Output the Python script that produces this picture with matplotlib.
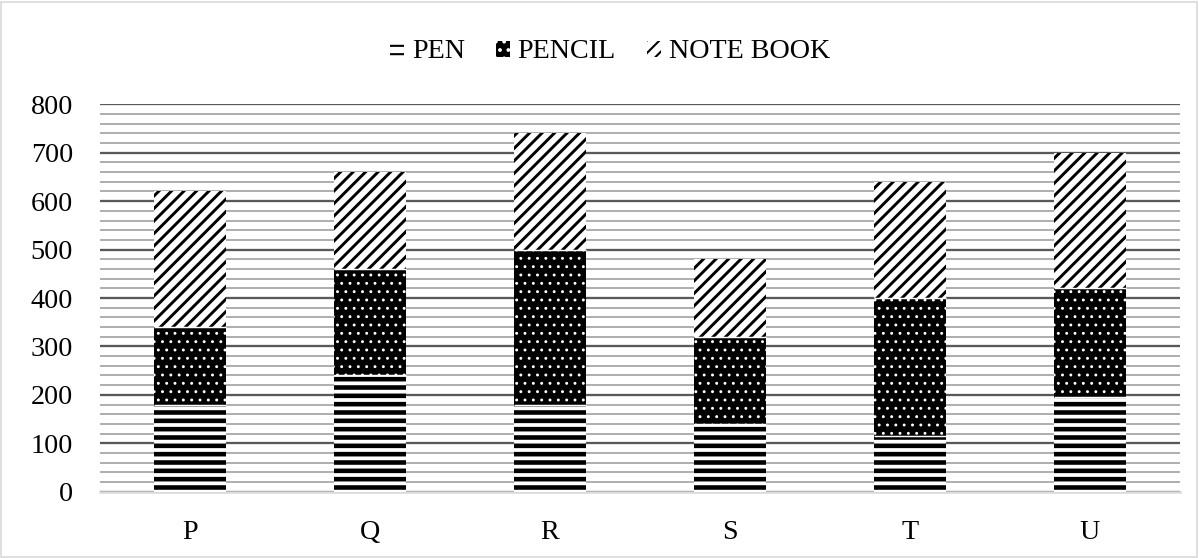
import matplotlib
matplotlib.use("Agg")
import matplotlib.pyplot as plt
from matplotlib.ticker import MultipleLocator
from matplotlib.patches import Rectangle

# Sales of stationery items per shop
shops = ["P", "Q", "R", "S", "T", "U"]
pen = [180, 240, 180, 140, 115, 195]
pencil = [160, 220, 320, 180, 285, 225]
note_book = [280, 200, 240, 160, 240, 280]
series_names = ["PEN", "PENCIL", "NOTE BOOK"]

DPI = 150
fig = plt.figure(figsize=(1199 / DPI, 558 / DPI), dpi=DPI)
plt.rcParams["font.family"] = ["Liberation Serif", "DejaVu Serif"]
FS = 13.5

ax = fig.add_axes([100 / 1199, 66.3 / 558, 1080 / 1199, 387.4 / 558])

x = list(range(len(shops)))
width = 0.4

styles = [
    # (face, hatch colour, hatch pattern, hatch linewidth)
    ("white", "black", "---", 2.2),
    ("black", "white", "...", 0.6),
    ("white", "black", "////", 1.4),
]

bottoms = [0] * len(shops)
handles = []
for vals, name, (face, hcol, hatch, hlw) in zip([pen, pencil, note_book], series_names, styles):
    with plt.rc_context({"hatch.linewidth": hlw}):
        bars = ax.bar(x, vals, width, bottom=bottoms, color=face, edgecolor=hcol,
                      linewidth=0, hatch=hatch, label=name, zorder=3)
    for p in bars:
        if hasattr(p, "set_hatch_linewidth"):
            p.set_hatch_linewidth(hlw)
    handles.append(bars)
    bottoms = [b + v for b, v in zip(bottoms, vals)]

# thin white separators between stacked segments
seps_y, seps_x0, seps_x1 = [], [], []
running = [0] * len(shops)
for vals in [pen, pencil]:
    running = [r + v for r, v in zip(running, vals)]
    seps_y += running
    seps_x0 += [xi - width / 2 for xi in x]
    seps_x1 += [xi + width / 2 for xi in x]
ax.hlines(seps_y, seps_x0, seps_x1, color="white", linewidth=0.7, zorder=4)

ax.set_xlim(-0.5, len(shops) - 0.5)
ax.set_ylim(0, 800)
ax.set_xticks(x)
ax.set_xticklabels(shops)
ax.yaxis.set_major_locator(MultipleLocator(100))
ax.yaxis.set_minor_locator(MultipleLocator(20))
ax.grid(which="major", axis="y", color="#595959", linewidth=1.1)
ax.grid(which="minor", axis="y", color="#a6a6a6", linewidth=0.85)
ax.set_axisbelow(True)

ax.tick_params(axis="both", which="both", length=0, labelsize=FS, colors="black")
ax.tick_params(axis="y", pad=13)
ax.tick_params(axis="x", pad=13.5)

for s in ["top", "right", "left"]:
    ax.spines[s].set_visible(False)
ax.spines["bottom"].set_color("#d9d9d9")
ax.spines["bottom"].set_linewidth(1.2)
ax.spines["bottom"].set_zorder(2.5)

leg = fig.legend(handles=handles, labels=series_names, loc="center",
                 bbox_to_anchor=(610 / 1199, 1 - 52 / 558), ncol=3, frameon=False,
                 fontsize=FS, handlelength=0.5, handleheight=0.5,
                 handletextpad=0.28, columnspacing=1.1)

# light frame around the whole chart
fig.patches.append(Rectangle((1 / 1199, 1 / 558), 1196 / 1199, 555 / 558,
                             transform=fig.transFigure, fill=False,
                             edgecolor="#d9d9d9", linewidth=0.8))

fig.savefig("out.png", dpi=DPI)
